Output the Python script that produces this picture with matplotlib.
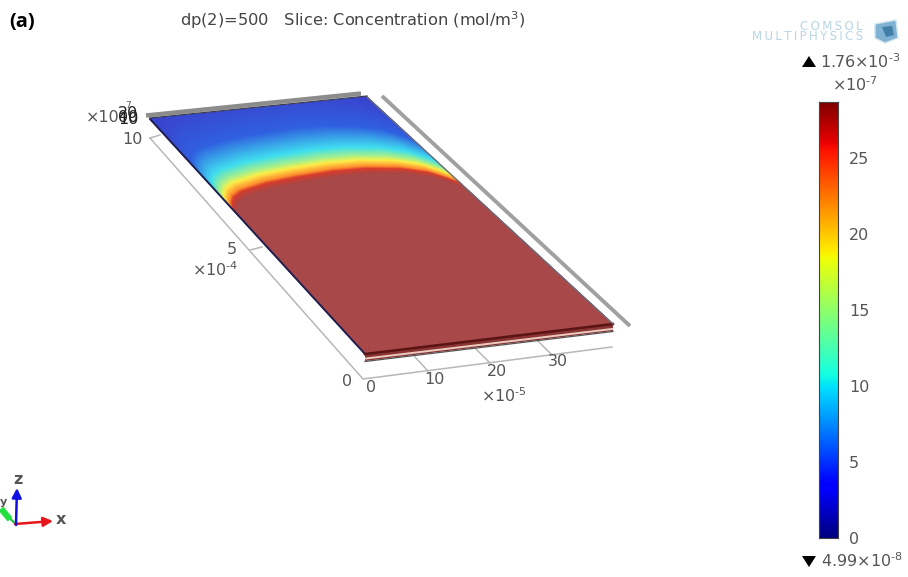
import numpy as np
import matplotlib
matplotlib.use('Agg')
import matplotlib.pyplot as plt
from matplotlib.colors import LinearSegmentedColormap
from matplotlib.patches import Polygon

# plate corners in picture pixels: back left, back right, front right, front left
plate_corners = [(150, 119), (367, 97), (613, 324), (365, 354)]

# where the red front sits across the plate (0 = left edge, 1 = right edge)
front_u = [0.0, 0.02, 0.05, 0.1, 0.235, 0.385, 0.55, 0.69, 0.83, 0.925, 0.97, 1.0]
front_v = [0.55, 0.58, 0.605, 0.625, 0.648, 0.66, 0.668, 0.665, 0.648, 0.62, 0.59, 0.565]

# concentration against distance behind the front (x1e-7)
dist_v = [0.0, 0.02, 0.035, 0.06, 0.085, 0.125, 0.23, 0.36, 0.5]
conc = [28.5, 25.0, 21.0, 17.5, 14.0, 9.0, 4.0, 1.5, 0.0]

# colorbar
bar_ticks = [0, 5, 10, 15, 20, 25]
bar_max = 28.7

# lit plate colours, value -> colour
lit_values = [0, 4, 9, 14, 17, 21, 24, 28.5]
lit_colors = ['#3c3cc8', '#3060e0', '#40e0f0', '#a8f090', '#fff04a', '#ff9030', '#dc3c2c', '#a94848']

x_ticks = [0, 10, 20, 30]
x_tick_labels = {0: (371, 387), 10: (434, 379), 20: (497, 371), 30: (558, 362)}


def homography(corners):
    src = [(0, 1), (1, 1), (1, 0), (0, 0)]
    A, b = [], []
    for (u, v), (x, y) in zip(src, corners):
        A.append([u, v, 1, 0, 0, 0, -u*x, -v*x])
        A.append([0, 0, 0, u, v, 1, -u*y, -v*y])
        b += [x, y]
    h = np.linalg.solve(np.array(A, float), np.array(b, float))
    return np.append(h, 1).reshape(3, 3)


H = homography(plate_corners)


def to_pix(u, v):
    u, v = np.asarray(u, float), np.asarray(v, float)
    w = H[2, 0]*u + H[2, 1]*v + H[2, 2]
    return (H[0, 0]*u + H[0, 1]*v + H[0, 2])/w, (H[1, 0]*u + H[1, 1]*v + H[1, 2])/w


def power(n):
    # hyphen, not the long mathtext minus
    return '\u00d710$^{\u2010' + str(n) + '}$'


fig = plt.figure(figsize=(9.08, 5.77), dpi=100)
ax = fig.add_axes([0, 0, 1, 1])
ax.set_xlim(0, 908)
ax.set_ylim(577, 0)
ax.axis('off')

grey = '#555555'
frame = '#b8b8b8'

# axis frame under the plate
ax.plot([150, 363, 612], [138, 379, 347], color=frame, lw=1.1, zorder=1)
for x0, y0, x1, y1 in [(150, 138, 160, 135), (250, 250, 262, 247), (415, 357, 428, 371),
                       (475, 348, 490, 363), (537, 340, 552, 355)]:
    ax.plot([x0, x1], [y0, y1], color=frame, lw=1.1, zorder=1)

# grey bars at the back and right
ax.plot([146, 361], [115.5, 93.5], color='#8c8c8c', lw=3.2, solid_capstyle='butt', zorder=1)
ax.plot([382, 630], [96, 326], color='#a0a0a0', lw=2.8, solid_capstyle='butt', zorder=1)

# slab side under the front edge
ax.add_patch(Polygon([(365, 354), (613, 324), (613, 331), (365, 361)], closed=True,
                     facecolor='#8a3434', edgecolor='none', zorder=2))
ax.plot([366, 612], [358.5, 329], color='#ecccc0', lw=1.4, zorder=3)
ax.plot([365, 613], [361.5, 331.5], color='#555555', lw=0.9, zorder=3)

# concentration field on the plate
u = np.linspace(0, 1, 400)
v = np.linspace(0, 1, 400)
U, V = np.meshgrid(u, v)
d = V - np.interp(U, front_u, front_v)
Z = np.interp(d, dist_v, conc)
X, Y = to_pix(U, V)
lit = LinearSegmentedColormap.from_list('lit', [(a/lit_values[-1], c) for a, c in zip(lit_values, lit_colors)])
ax.pcolormesh(X, Y, Z, cmap=lit, vmin=0, vmax=28.5, shading='gouraud', zorder=2.5)

# plate edges
ax.plot([150, 365], [119, 354], color='#1f1f50', lw=1.4, zorder=4)
ax.plot([365, 613], [354, 324], color='#5a1414', lw=1.8, zorder=4)
ax.plot([367, 613], [97, 324], color='#6a6a7a', lw=1.0, zorder=4)
ax.plot([150, 367], [118, 96], color='#3a3a50', lw=0.9, zorder=4)

# tick labels
fs = 11.5
for t in x_ticks:
    ax.text(*x_tick_labels[t], str(t), color=grey, fontsize=fs, ha='center', va='center')
ax.text(347, 381, '0', color=grey, fontsize=fs, ha='center', va='center')
ax.text(232, 250, '5', color=grey, fontsize=fs, ha='center', va='center')
ax.text(132, 140, '10', color=grey, fontsize=fs, ha='center', va='center')
ax.text(504, 396, power(5), color=grey, fontsize=fs, ha='center', va='center')
ax.text(215, 270, power(4), color=grey, fontsize=fs, ha='center', va='center')
# overprinted z axis labels at the back corner, as in the source
ax.text(103, 117, '\u00d710', color=grey, fontsize=fs, ha='center', va='center')
ax.text(128, 105, '7', color=grey, fontsize=6.5, ha='center', va='center')
ax.text(128, 114, '20', color='#222222', fontsize=fs, ha='center', va='center')
ax.text(128, 120, '10', color='#222222', fontsize=fs, ha='center', va='center')
ax.text(128, 117, '00', color='#222222', fontsize=fs, ha='center', va='center')

# title and panel tag
ax.text(353, 20, 'dp(2)=500   Slice: Concentration (mol/m$^3$)', color='#444444', fontsize=11.7,
        ha='center', va='center')
ax.text(9, 22, '(a)', color='black', fontsize=14.5, fontweight='bold', family='Open Sans',
        ha='left', va='center')

# logo
ax.text(831, 26, '\u2009'.join('COMSOL'), color='#b8d4e4', fontsize=8.5, ha='center', va='center')
ax.text(808, 37, '\u2009'.join('MULTIPHYSICS'), color='#b8d4e4', fontsize=8.5, ha='center', va='center')
ax.add_patch(Polygon([(875, 24), (896, 20), (898, 38), (885, 43), (875, 38)], closed=True,
                     facecolor='#7fb2d2', edgecolor='#d3e5ef', lw=1))
ax.add_patch(Polygon([(882, 27), (892, 26), (894, 35), (886, 37)], closed=True,
                     facecolor='#3f7fa8', edgecolor='none'))

# colorbar annotations
ax.add_patch(Polygon([(802, 67), (816, 67), (809, 56)], closed=True, facecolor='black'))
ax.text(820, 62, '1.76\u00d710$^{\u20103}$', color=grey, fontsize=11.5, ha='left', va='center')
ax.text(855, 85, power(7), color=grey, fontsize=11.5, ha='center', va='center')
ax.add_patch(Polygon([(802, 556), (816, 556), (809, 567)], closed=True, facecolor='black'))
ax.text(821, 561, '4.99\u00d710$^{\u20108}$', color=grey, fontsize=11.5, ha='left', va='center')

# xyz triad
ax.annotate('', xy=(53, 521), xytext=(15, 524),
            arrowprops=dict(arrowstyle='-|>', color='#e8141c', lw=1.8, mutation_scale=14, shrinkA=0, shrinkB=0))
ax.annotate('', xy=(17, 488), xytext=(16, 525),
            arrowprops=dict(arrowstyle='-|>', color='#1010e0', lw=1.8, mutation_scale=14, shrinkA=0, shrinkB=0))
ax.plot([16, 7], [524, 516], color='#20c040', lw=1.6)
ax.plot([3, 8], [511, 517], color='#20e040', lw=4.5)
ax.text(61, 520, 'x', color=grey, fontsize=11.5, ha='center', va='center', fontweight='bold')
ax.text(18, 479, 'z', color=grey, fontsize=11.5, ha='center', va='center', fontweight='bold')
ax.text(0, 502, 'y', color=grey, fontsize=8, ha='left', va='center', fontweight='bold')

# colorbar axes
cax = fig.add_axes([819/908, 1 - 538/577, 19/908, 436/577])
grad = np.linspace(0, bar_max, 256).reshape(-1, 1)
cax.imshow(grad, origin='lower', aspect='auto', cmap='jet', extent=[0, 1, 0, bar_max], vmin=0, vmax=bar_max)
cax.set_xticks([])
cax.yaxis.tick_right()
cax.set_yticks(bar_ticks)
cax.tick_params(axis='y', length=0, pad=8, labelsize=11.5, labelcolor=grey)
for s in cax.spines.values():
    s.set_color('#444444')
    s.set_linewidth(0.8)

fig.savefig('out.png', dpi=100)
